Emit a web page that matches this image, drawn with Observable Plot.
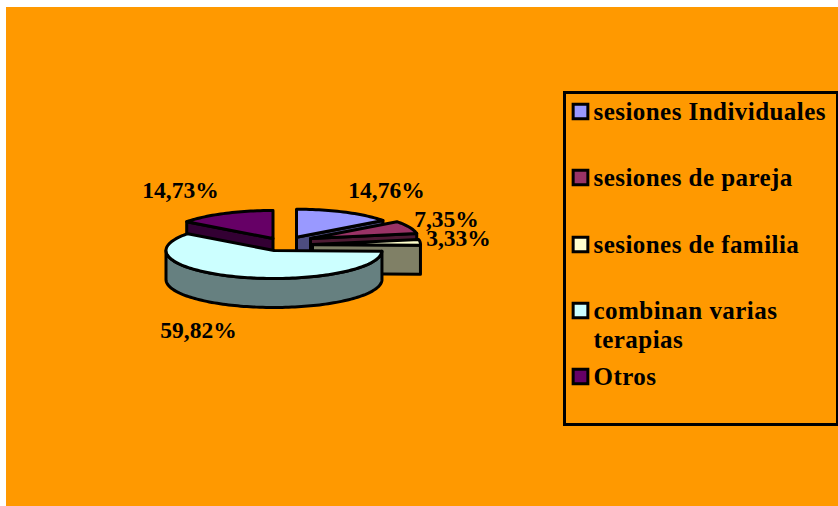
<!DOCTYPE html>
<html><head><meta charset="utf-8">
<script src="https://cdn.jsdelivr.net/npm/d3@7"></script>
<script src="https://cdn.jsdelivr.net/npm/@observablehq/plot@0.6"></script>
<style>
html,body{margin:0;padding:0;background:#fff;overflow:hidden}
#chart{position:absolute;left:6px;top:7px}
#chart svg{display:block;background:#FF9900}
.leg text{letter-spacing:.45px}
</style></head><body><div id="chart"></div>
<script>
const categories = ["sesiones Individuales","sesiones de pareja","sesiones de familia","combinan varias terapias","Otros"];
const values = [14.76,7.35,3.33,59.82,14.73];
const labels = ["14,76%","7,35%","3,33%","59,82%","14,73%"];
const topColors = ["#9999FF","#993366","#FFFFCC","#CCFFFF","#660066"];
const wallColors = ["#4D4D80","#4D1A33","#808066","#668080","#330033"];
const legendLines = [["sesiones Individuales"],["sesiones de pareja"],["sesiones de familia"],["combinan varias","terapias"],["Otros"]];

// layout
const W = 832, H = 499, ox = 6, oy = 7;
const cx = 275, cy = 250, rx = 108, ry = 28, depth = 29;
const explode = [[21,-13.3],[35,-12],[37,-6],[-1.5,0],[-2.5,-12]];
const labelPos = [[386,190],[446,219],[458,238],[198,330],[180,190]];
const legendY = [111,177,244,310,376];
const lineGap = 29, legendFont = 25;
const font = "'Liberation Serif', serif";

const arcs = d3.pie().sort(null).value(d => d)(values);
const pt = (i, a, down = 0) => ({
  x: Math.sin(a) + explode[i][0] / rx,
  y: -Math.cos(a) + (explode[i][1] + down) / ry
});
const apex = (i, down = 0) => ({x: explode[i][0] / rx, y: (explode[i][1] + down) / ry});
const arcPts = (i, a0, a1, down = 0) => {
  const n = Math.max(2, Math.ceil(Math.abs(a1 - a0) / 0.03));
  return d3.range(n + 1).map(k => pt(i, a0 + (a1 - a0) * k / n, down));
};
const closed = p => [...p, p[0]];
const face = (pts, fill) => Plot.line(closed(pts), {x: "x", y: "y", fill, stroke: "#000", strokeWidth: 3, strokeLinejoin: "round", curve: "linear"});

const topFace = i => face([apex(i), ...arcPts(i, arcs[i].startAngle, arcs[i].endAngle)], topColors[i]);
const cutWall = (i, a) => face([apex(i), pt(i, a), pt(i, a, depth), apex(i, depth)], wallColors[i]);
const outerWall = (i, a0, a1) => face([...arcPts(i, a0, a1), ...arcPts(i, a1, a0, depth)], wallColors[i]);

const marks = [
  cutWall(0, arcs[0].endAngle), topFace(0),
  cutWall(1, arcs[1].endAngle), topFace(1),
  cutWall(2, arcs[2].endAngle), topFace(2),
  cutWall(4, arcs[4].startAngle), topFace(4),
  outerWall(3, arcs[3].startAngle, 1.5 * Math.PI), topFace(3),
  // percent labels
  ...labels.map((t, i) => Plot.text([t], {
    frameAnchor: "top-left", dx: labelPos[i][0] - ox, dy: labelPos[i][1] - oy,
    text: d => d, fontSize: 23.5, fontWeight: "bold", fontFamily: font, fill: "#000", textAnchor: "middle", lineAnchor: "middle"
  })),
  // legend box
  Plot.frame({stroke: "#000", strokeWidth: 3, insetLeft: 564 - ox, insetTop: 92 - oy, insetRight: 838 - 837, insetBottom: 506 - 424}),
  ...categories.map((c, i) => Plot.dot([c], {
    frameAnchor: "top-left", dx: 580 - ox, dy: legendY[i] - oy,
    symbol: "square", r: 8.3, fill: topColors[i], stroke: "#000", strokeWidth: 3
  })),
  ...legendLines.flatMap((lines, i) => lines.map((t, j) => Plot.text([t], {
    frameAnchor: "top-left", dx: 593 - ox, dy: legendY[i] + j * lineGap - oy,
    text: d => d, fontSize: legendFont, fontWeight: "bold", fontFamily: font, fill: "#000", textAnchor: "start", lineAnchor: "middle", className: "leg"
  })))
];

const chart = Plot.plot({
  width: W, height: H, margin: 0,
  style: {background: "#FF9900", overflow: "hidden"},
  x: {domain: [-1, 1], range: [cx - rx - ox, cx + rx - ox], axis: null},
  y: {domain: [-1, 1], range: [cy - ry - oy, cy + ry - oy], axis: null},
  marks
});
document.getElementById("chart").append(chart);
</script></body></html>
